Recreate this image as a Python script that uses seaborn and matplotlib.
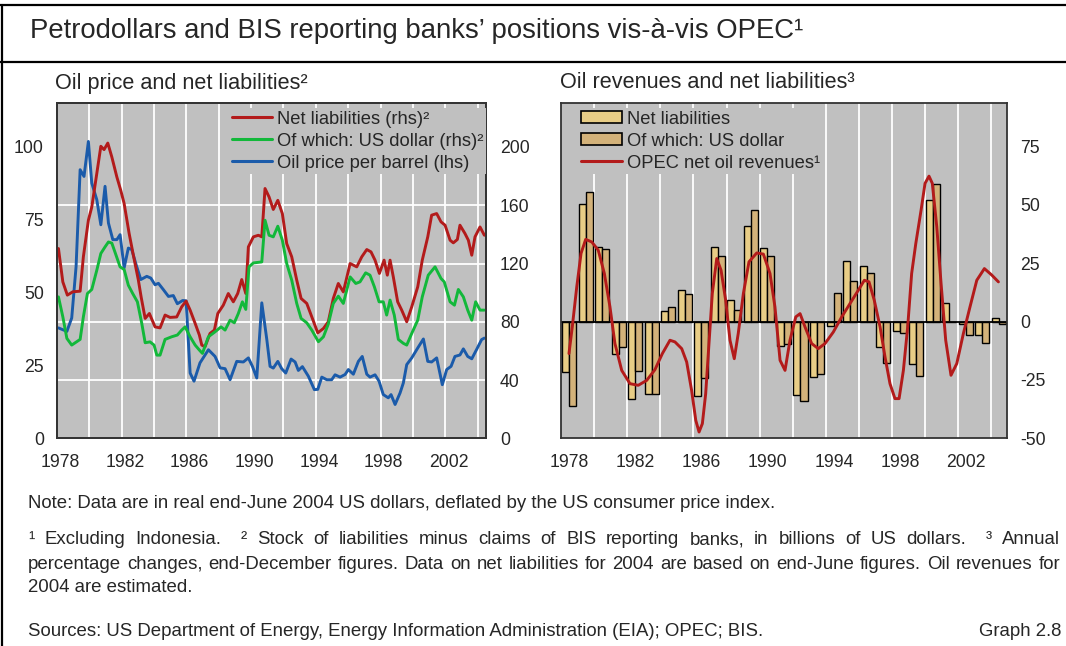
import numpy as np
import pandas as pd
import matplotlib
matplotlib.use("Agg")
import matplotlib.pyplot as plt
import seaborn as sns
from matplotlib.lines import Line2D
from matplotlib.patches import Patch

# ---------------- data ----------------
oil_t = [1978.09,1978.61,1978.91,1979.18,1979.43,1979.67,1979.94,1980.15,1980.46,1980.71,1980.97,1981.18,1981.45,1981.70,1981.90,1982.15,1982.41,1982.62,1982.89,1983.18,1983.55,1983.80,1984.06,1984.27,1984.58,1984.89,1985.19,1985.44,1985.77,1985.98,1986.23,1986.47,1986.84,1987.36,1987.77,1988.08,1988.39,1988.70,1989.11,1989.52,1989.83,1990.08,1990.35,1990.66,1990.97,1991.17,1991.37,1991.65,1991.89,1992.14,1992.47,1992.72,1992.92,1993.17,1993.54,1993.91,1994.12,1994.37,1994.68,1994.98,1995.19,1995.50,1995.81,1996.01,1996.32,1996.63,1996.87,1997.15,1997.35,1997.66,1997.91,1998.17,1998.48,1998.65,1998.90,1999.21,1999.41,1999.62,1999.93,2000.30,2000.65,2000.92,2001.16,2001.47,2001.82,2002.09,2002.36,2002.60,2002.91,2003.12,2003.39,2003.64,2003.95,2004.25,2004.42]
oil_price = [37.9,36.7,41.3,59,92.2,89.9,101.9,87.6,81.9,73.3,86.5,73.9,68.2,68.2,69.9,58.5,65.3,64.8,59.6,54.5,55.6,55,52.7,53.2,51,48.7,49,46.2,47.3,47.2,22.4,19.6,25.9,30.4,28.1,24.2,23.9,20.1,26.4,26.2,27.6,24.7,20.7,46.5,33.9,24.7,24.1,26.4,23.9,22.4,27.2,26.2,23.3,24.6,21.3,16.7,16.8,21.0,20.1,20.1,21.8,21.0,21.9,23.6,22.0,26.4,28.1,22,21,21.8,19.6,15.0,13.9,15.0,11.6,15.6,19,25.3,27.6,31.0,34.1,26.4,26.2,27.6,18.4,23.6,24.7,28.1,28.6,30.7,28.1,27.3,30.6,33.9,34.4]

net_t = [1978.09,1978.36,1978.64,1978.98,1979.43,1979.63,1979.94,1980.15,1980.46,1980.71,1980.91,1981.14,1981.39,1981.70,1981.94,1982.15,1982.46,1982.72,1983.03,1983.20,1983.45,1983.71,1984.06,1984.37,1984.68,1984.99,1985.40,1985.71,1985.98,1986.23,1986.54,1986.80,1986.95,1987.15,1987.46,1987.73,1987.94,1988.28,1988.59,1988.90,1989.17,1989.42,1989.67,1989.83,1990.14,1990.45,1990.66,1990.86,1991.11,1991.37,1991.65,1991.93,1992.20,1992.51,1992.82,1993.09,1993.44,1993.75,1994.12,1994.47,1994.77,1995.08,1995.39,1995.70,1996.12,1996.53,1996.84,1997.15,1997.41,1997.66,1997.93,1998.22,1998.42,1998.59,1998.79,1999.06,1999.31,1999.62,1999.93,2000.30,2000.58,2000.92,2001.16,2001.47,2001.74,2001.99,2002.30,2002.50,2002.75,2002.91,2003.22,2003.43,2003.64,2003.84,2004.15,2004.42]
net_liab = [130.3,107.4,98.3,100.6,101,124.6,149.7,158.8,181.8,200.5,198.2,202.7,193.1,179.4,170.3,161.2,140.6,125.7,108.6,97.1,82.3,85.7,76.5,75.8,84.6,83,83.3,90.3,94.2,88,78.9,70.9,64,62.8,72,74.3,85.7,91.4,99.4,93.7,99.4,109,99.4,131.4,138.3,139.4,138.3,171.5,165.7,157.1,163.4,154.3,133.7,124.6,108.6,96,92.6,83.4,72.4,75.4,80,96,106.3,100.5,120,117.7,124.6,129.6,128,122.3,113.2,122.3,112,122.3,110.8,93.7,88,80,90.3,104,122.3,138.3,153.2,154.3,148.6,146.3,136,134.2,136.5,146.3,140.6,136,125.7,138.3,145.1,139.4]

usd_t = [1978.09,1978.36,1978.61,1978.91,1979.43,1979.63,1979.88,1980.15,1980.46,1980.71,1980.97,1981.18,1981.39,1981.65,1981.90,1982.15,1982.41,1982.68,1982.97,1983.24,1983.45,1983.75,1984.00,1984.17,1984.37,1984.68,1985.09,1985.44,1985.71,1985.92,1986.23,1986.54,1986.80,1986.99,1987.36,1987.77,1988.14,1988.39,1988.70,1988.96,1989.21,1989.46,1989.67,1989.87,1990.14,1990.66,1990.86,1991.11,1991.37,1991.65,1991.93,1992.20,1992.51,1992.82,1993.09,1993.44,1993.75,1994.16,1994.47,1994.77,1995.08,1995.39,1995.70,1996.12,1996.47,1996.73,1997.08,1997.35,1997.62,1997.91,1998.17,1998.38,1998.59,1998.85,1999.10,1999.41,1999.62,1999.93,2000.30,2000.58,2000.95,2001.37,2001.74,2001.94,2002.30,2002.57,2002.81,2003.12,2003.39,2003.64,2003.88,2004.15,2004.42]
usd_liab = [97.1,83.4,68.6,64,67.9,83.4,99.4,102.2,115.4,126.9,131.4,134.8,134,125.7,117.7,115.9,105.1,99.4,93.7,78.9,65.6,66.2,64,57.1,57.1,67.9,69.7,70.9,74.3,76.5,69.7,64,60.6,58.3,69.7,73.1,76.5,74.3,81.1,79.3,85.7,93.7,88.5,117.7,120.4,121.1,149.7,139.4,138.3,145.6,136,120,108.6,92.6,82.3,79.3,74.3,66.3,69.7,78.4,92.6,97.6,92.6,110.8,106.3,107.4,113.6,112,104,93.7,93.7,84.6,94.9,84.6,67.9,65.2,64,72,81.1,97.1,112,117.7,109.7,107.4,93.7,91.4,102.2,97.1,88,81.1,93.7,88,88]

bar_years = list(range(1978, 2005))
bar_net = [-21.6,50.2,32.0,-13.7,-33.3,-31.2,4.4,13.4,-32.0,32.0,9.1,40.9,31.6,-10.6,-31.6,-23.7,-1.7,26.0,23.8,-11.1,-4.0,-18.3,52.0,8.1,-1.2,-5.9,1.7]
bar_usd = [-36.3,55.3,30.9,-11.1,-21.2,-31.2,6.3,11.7,-24.0,28.0,5.1,48.0,28.1,-9.4,-34.0,-22.3,12.3,17.4,20.6,-17.7,-4.7,-23.5,58.9,-0.3,-5.9,-9.0,-1.2]

rev_t = [1978.47,1978.67,1978.94,1979.20,1979.48,1979.85,1980.24,1980.61,1980.95,1981.25,1981.66,1982.16,1982.66,1983.17,1983.67,1984.12,1984.58,1984.88,1985.29,1985.59,1985.89,1986.14,1986.34,1986.54,1986.74,1986.94,1987.14,1987.41,1987.67,1987.95,1988.21,1988.47,1988.71,1989.02,1989.36,1989.83,1990.23,1990.63,1990.93,1991.24,1991.54,1991.84,1992.19,1992.45,1992.75,1993.15,1993.55,1993.96,1994.46,1994.97,1995.47,1995.97,1996.34,1996.62,1996.94,1997.29,1997.59,1997.89,1998.19,1998.44,1998.70,1998.96,1999.20,1999.45,1999.77,2000.01,2000.25,2000.45,2000.72,2000.98,2001.26,2001.58,2001.93,2002.33,2002.73,2003.14,2003.60,2004.05,2004.45]
rev_chg = [-13.7,-2.3,14.8,29.2,35.2,34.1,30.6,20.6,6.3,-9.4,-20.9,-26.6,-27.3,-25.2,-20.6,-13.7,-8.0,-8.7,-11.6,-17.3,-29.5,-42.3,-47.3,-43.7,-30.9,-9.4,12.0,27.0,22.0,9.1,-8.0,-15.9,-5.1,12.0,25.6,29.4,28.9,20.6,6.3,-16.6,-20.9,-8.0,2.0,3.4,-2.3,-9.4,-11.6,-9.4,-4.5,2.0,7.7,13.4,17.7,17.0,9.1,-2.3,-15.2,-26.6,-33.0,-33.0,-20.9,-2.3,20.6,33.4,47.7,59.2,62.3,59.2,40.6,16.3,-8.0,-23.0,-18.0,-5.1,6.3,17.7,22.7,19.9,17.0]

year_labels = ["1978", "1982", "1986", "1990", "1994", "1998", "2002"]
left_lhs_ticks = [0, 25, 50, 75, 100]
left_rhs_ticks = [0, 40, 80, 120, 160, 200]
right_ticks = [-50, -25, 0, 25, 50, 75]

title = "Petrodollars and BIS reporting banks\u2019 positions vis-\u00e0-vis OPEC\u00b9"
left_title = "Oil price and net liabilities\u00b2"
right_title = "Oil revenues and net liabilities\u00b3"
left_legend = ["Net liabilities (rhs)\u00b2", "Of which: US dollar (rhs)\u00b2", "Oil price per barrel (lhs)"]
right_legend = ["Net liabilities", "Of which: US dollar", "OPEC net oil revenues\u00b9"]
note = "Note: Data are in real end-June 2004 US dollars, deflated by the US consumer price index."
foot1 = "\u00b9 Excluding Indonesia.  \u00b2 Stock of liabilities minus claims of BIS reporting banks, in billions of US dollars.  \u00b3 Annual"
foot2 = "percentage changes, end-December figures. Data on net liabilities for 2004 are based on end-June figures. Oil revenues for"
foot3 = "2004 are estimated."
sources = "Sources: US Department of Energy, Energy Information Administration (EIA); OPEC; BIS."
graph_no = "Graph 2.8"

# ---------------- style ----------------
sns.set_theme(style="white")
plt.rcParams['font.family'] = ['Liberation Sans', 'DejaVu Sans']
plt.rcParams['axes.unicode_minus'] = False

BG = "#C0C0C0"
RED = "#B31B1B"
GREEN = "#12B83A"
BLUE = "#1B5BAA"
LIGHT = "#E8CD86"
DARK = "#D3B27A"
SPINE = "#333333"

W, H = 1066, 646
fig = plt.figure(figsize=(W / 100, H / 100), dpi=100)
fig.patch.set_facecolor("white")

def fx(px):
    return px / W

def fy(py):
    return 1 - py / H

TICK_FS = 12.7
LEG_FS = 13.2
NOTE_FS = 13.4

# ---------------- left panel ----------------
ax1 = fig.add_axes([fx(57), fy(438.3), (486 - 57) / W, 335 / H])
ax1.set_facecolor(BG)
sns.lineplot(x=oil_t, y=oil_price, ax=ax1, color=BLUE, linewidth=2.1, estimator=None, sort=False)
ax1.set_xlim(1978, 2004.52)
ax1.set_ylim(0, 115)
ax1.set_yticks(left_lhs_ticks)
ax1.set_yticklabels([str(v) for v in left_lhs_ticks])
ax1.set_yticks([20, 40, 60, 80, 100], minor=True)
ax1.set_xticks([int(s) + 0.2 for s in year_labels])
ax1.set_xticklabels(year_labels)
ax1.set_xticks(np.arange(1980, 2005, 2), minor=True)
ax1.grid(False)
ax1.grid(which="minor", color="white", linewidth=1.3)
ax1.set_axisbelow(True)
ax1.tick_params(which="both", length=0)
ax1.tick_params(axis="y", pad=9.5, labelsize=TICK_FS)
ax1.tick_params(axis="x", pad=11.5, labelsize=TICK_FS)
ax1.set_xlabel("")
ax1.set_ylabel("")

ax2 = ax1.twinx()
sns.lineplot(x=net_t, y=net_liab, ax=ax2, color=RED, linewidth=2.1, estimator=None, sort=False)
sns.lineplot(x=usd_t, y=usd_liab, ax=ax2, color=GREEN, linewidth=2.1, estimator=None, sort=False)
ax2.set_ylim(0, 230)
ax2.set_yticks(left_rhs_ticks)
ax2.set_yticklabels([str(v) for v in left_rhs_ticks])
ax2.grid(False)
ax2.tick_params(which="both", length=0)
ax2.tick_params(axis="y", pad=10, labelsize=TICK_FS)
ax2.set_ylabel("")
ax2.set_xlim(1978, 2004.52)

for a in (ax1, ax2):
    for s in a.spines.values():
        s.set_color(SPINE)
        s.set_linewidth(1.3)

h_left = [Line2D([], [], color=RED, lw=2.2), Line2D([], [], color=GREEN, lw=2.2), Line2D([], [], color=BLUE, lw=2.2)]
leg1 = ax2.legend(h_left, left_legend, loc="upper left", bbox_to_anchor=(0.401, 0.986),
                  borderaxespad=0, frameon=True, facecolor=BG, edgecolor="none", framealpha=1,
                  fancybox=False, fontsize=LEG_FS, handlelength=2.2, handletextpad=0.27,
                  labelspacing=0.27, borderpad=0.15)
leg1.get_frame().set_facecolor(BG)
leg1.get_frame().set_alpha(1)
leg1.set_zorder(10)

# ---------------- right panel ----------------
ax3 = fig.add_axes([fx(561.2), fy(438.3), (1006.7 - 561.2) / W, 335 / H])
ax3.set_facecolor(BG)
df = pd.DataFrame({
    "pos": [y + 0.475 for y in bar_years] * 2,
    "val": bar_net + bar_usd,
    "series": [right_legend[0]] * len(bar_years) + [right_legend[1]] * len(bar_years),
})
sns.barplot(data=df, x="pos", y="val", hue="series", hue_order=right_legend[:2],
            native_scale=True, width=0.85, palette=[LIGHT, DARK], saturation=1,
            edgecolor="black", linewidth=1.0, errorbar=None, legend=False, ax=ax3, zorder=2)
ax3.axhline(0, color="black", linewidth=1.3, zorder=2.5)
sns.lineplot(x=rev_t, y=rev_chg, ax=ax3, color=RED, linewidth=2.1, estimator=None, sort=False, zorder=3)
ax3.set_xlim(1978, 2004.95)
ax3.set_ylim(-50, 93.5)
ax3.yaxis.tick_right()
ax3.set_yticks(right_ticks)
ax3.set_yticklabels([str(v) for v in right_ticks])
ax3.set_yticks([-25, 25, 50, 75], minor=True)
ax3.set_xticks([int(s) + 0.5 for s in year_labels])
ax3.set_xticklabels(year_labels)
ax3.set_xticks(np.arange(1980, 2005, 2), minor=True)
ax3.grid(False)
ax3.grid(which="minor", color="white", linewidth=1.3)
ax3.set_axisbelow(True)
ax3.tick_params(which="both", length=0)
ax3.tick_params(axis="y", pad=10, labelsize=TICK_FS)
ax3.tick_params(axis="x", pad=11.5, labelsize=TICK_FS)
ax3.set_xlabel("")
ax3.set_ylabel("")
for s in ax3.spines.values():
    s.set_color(SPINE)
    s.set_linewidth(1.3)

h_right = [Patch(facecolor=LIGHT, edgecolor="black", linewidth=1.2),
           Patch(facecolor=DARK, edgecolor="black", linewidth=1.2),
           Line2D([], [], color=RED, lw=2.2)]
leg2 = ax3.legend(h_right, right_legend, loc="upper left", bbox_to_anchor=(0.0377, 0.986),
                  borderaxespad=0, frameon=True, facecolor=BG, edgecolor="none", framealpha=1,
                  fancybox=False, fontsize=LEG_FS, handlelength=2.25, handleheight=0.6,
                  handletextpad=0.27, labelspacing=0.27, borderpad=0.15)
leg2.get_frame().set_facecolor(BG)
leg2.get_frame().set_alpha(1)
leg2.set_zorder(10)

# ---------------- titles, frame and notes ----------------
fig.text(fx(30), fy(31), title, fontsize=19.8, va="center", ha="left")
fig.text(fx(55), fy(83), left_title, fontsize=15.6, va="center", ha="left")
fig.text(fx(560), fy(83), right_title, fontsize=15.6, va="center", ha="left")

for xs, ys in [([0, W], [5, 5]), ([0, W], [62, 62]), ([1.5, 1.5], [5, H])]:
    fig.add_artist(Line2D([fx(x) for x in xs], [fy(y) for y in ys], color="black",
                          linewidth=1.6, transform=fig.transFigure))

fig.text(fx(28), fy(503.5), note, fontsize=NOTE_FS, va="center", ha="left")

renderer = fig.canvas.get_renderer()

def justified_line(text, py, x0, x1, fs):
    words = text.split(" ")
    arts, widths = [], []
    for w in words:
        if w == "":
            arts.append(None)
            widths.append(0.0)
            continue
        t = fig.text(0, fy(py), w, fontsize=fs, va="center", ha="left")
        arts.append(t)
        widths.append(t.get_window_extent(renderer=renderer).width)
    gap = (x1 - x0 - sum(widths)) / (len(words) - 1)
    x = x0
    for t, w in zip(arts, widths):
        if t is not None:
            t.set_x(fx(x))
        x += w + gap

justified_line(foot1, 540, 28, 1060, NOTE_FS)
justified_line(foot2, 564.3, 28, 1060, NOTE_FS)
fig.text(fx(28), fy(588), foot3, fontsize=NOTE_FS, va="center", ha="left")
fig.text(fx(28), fy(631.5), sources, fontsize=NOTE_FS, va="center", ha="left")
fig.text(fx(1061), fy(631.5), graph_no, fontsize=NOTE_FS, va="center", ha="right")

fig.savefig("out.png", dpi=100, facecolor="white")
